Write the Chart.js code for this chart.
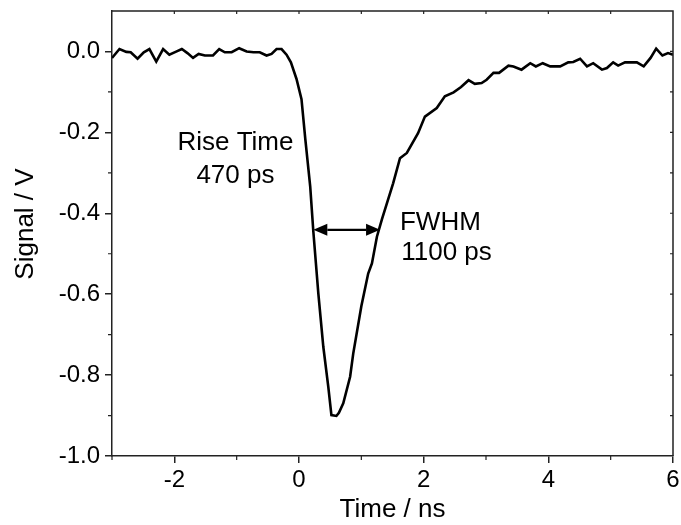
<!DOCTYPE html>
<html><head><meta charset="utf-8">
<script src="https://cdn.jsdelivr.net/npm/chart.js@4/dist/chart.umd.min.js"></script>
<style>html,body{margin:0;padding:0;background:#fff;} #wrap{width:681px;height:525px;}</style>
</head><body><div id="wrap"><canvas id="c" width="681" height="525"></canvas></div>
<script>
const times = [-3.00,-2.88,-2.77,-2.70,-2.59,-2.49,-2.40,-2.29,-2.18,-2.08,-1.98,-1.88,-1.79,-1.70,-1.61,-1.51,-1.38,-1.28,-1.19,-1.08,-0.96,-0.84,-0.73,-0.63,-0.52,-0.44,-0.36,-0.28,-0.20,-0.13,-0.04,0.04,0.10,0.18,0.23,0.31,0.39,0.47,0.52,0.60,0.64,0.71,0.82,0.87,1.00,1.11,1.17,1.25,1.33,1.51,1.62,1.73,1.91,2.02,2.21,2.34,2.48,2.60,2.72,2.82,2.93,3.01,3.12,3.21,3.36,3.44,3.57,3.71,3.80,3.91,4.03,4.19,4.32,4.40,4.51,4.62,4.72,4.86,4.94,5.04,5.12,5.23,5.42,5.53,5.64,5.73,5.83,5.92,6.00];
const signal = [-0.016,0.006,-0.001,-0.002,-0.018,-0.002,0.006,-0.025,0.006,-0.008,-0.001,0.006,-0.004,-0.016,-0.006,-0.010,-0.010,0.006,-0.002,-0.002,0.008,0.000,-0.002,-0.002,-0.010,-0.006,0.006,0.006,-0.008,-0.027,-0.068,-0.118,-0.215,-0.334,-0.445,-0.598,-0.730,-0.829,-0.899,-0.901,-0.893,-0.870,-0.804,-0.747,-0.630,-0.549,-0.524,-0.458,-0.415,-0.326,-0.264,-0.251,-0.202,-0.161,-0.140,-0.111,-0.101,-0.088,-0.071,-0.080,-0.078,-0.070,-0.053,-0.053,-0.035,-0.037,-0.045,-0.029,-0.037,-0.029,-0.037,-0.037,-0.027,-0.026,-0.018,-0.037,-0.029,-0.045,-0.041,-0.027,-0.035,-0.027,-0.027,-0.037,-0.016,0.007,-0.010,-0.004,-0.008];
const xTicks = [-2, 0, 2, 4, 6];
const yTicks = [-1.0, -0.8, -0.6, -0.4, -0.2, 0.0];
const xMinor = [-3, -1, 1, 3, 5];
const yMinor = [-0.9, -0.7, -0.5, -0.3, -0.1];
const xLabel = 'Time / ns';
const yLabel = 'Signal / V';

const annotations = {
  arrow: { from: [0.23, -0.441], to: [1.30, -0.441] },
  texts: [
    { text: 'Rise Time', at: [-1.02, -0.243], align: 'center' },
    { text: '470 ps', at: [-1.02, -0.324], align: 'center' },
    { text: 'FWHM', at: [1.62, -0.441], align: 'left' },
    { text: '1100 ps', at: [1.64, -0.516], align: 'left' }
  ]
};

const FONT = "'Liberation Sans', Arial, sans-serif";
const AX = '#222';

const framePlugin = {
  id: 'frame',
  afterDraw(chart) {
    const ctx = chart.ctx, ca = chart.chartArea;
    const xs = chart.scales.x, ys = chart.scales.y;
    ctx.save();
    ctx.strokeStyle = AX; ctx.lineWidth = 1.5;
    ctx.beginPath();
    ctx.moveTo(ca.left, ca.top); ctx.lineTo(ca.right, ca.top); ctx.lineTo(ca.right, ca.bottom);
    ctx.stroke();
    ctx.lineWidth = 1.2;
    ctx.beginPath();
    xMinor.forEach(v => { const p = xs.getPixelForValue(v); ctx.moveTo(p, ca.bottom); ctx.lineTo(p, ca.bottom + 4); });
    yMinor.forEach(v => { const p = ys.getPixelForValue(v); ctx.moveTo(ca.left - 4, p); ctx.lineTo(ca.left, p); });
    for (let v = -2; v <= 5; v++) { const p = xs.getPixelForValue(v); ctx.moveTo(p, ca.top); ctx.lineTo(p, ca.top + 3); }
    for (let i = 0; i <= 9; i++) { const p = ys.getPixelForValue(-i / 10); ctx.moveTo(ca.right - 3, p); ctx.lineTo(ca.right, p); }
    ctx.stroke();

    // arrow
    const a = annotations.arrow;
    const x1 = xs.getPixelForValue(a.from[0]), y1 = ys.getPixelForValue(a.from[1]);
    const x2 = xs.getPixelForValue(a.to[0]);
    const hl = 14, hw = 6;
    ctx.strokeStyle = '#000'; ctx.fillStyle = '#000'; ctx.lineWidth = 2.4;
    ctx.beginPath(); ctx.moveTo(x1 + hl, y1); ctx.lineTo(x2 - hl, y1); ctx.stroke();
    ctx.beginPath(); ctx.moveTo(x1, y1); ctx.lineTo(x1 + hl, y1 - hw); ctx.lineTo(x1 + hl, y1 + hw); ctx.closePath(); ctx.fill();
    ctx.beginPath(); ctx.moveTo(x2, y1); ctx.lineTo(x2 - hl, y1 - hw); ctx.lineTo(x2 - hl, y1 + hw); ctx.closePath(); ctx.fill();

    ctx.font = '26px ' + FONT; ctx.textBaseline = 'alphabetic';
    annotations.texts.forEach(t => {
      ctx.textAlign = t.align;
      ctx.fillText(t.text, xs.getPixelForValue(t.at[0]), ys.getPixelForValue(t.at[1]));
    });

    // y axis title
    ctx.save();
    ctx.translate(25.6, 224);
    ctx.rotate(-Math.PI / 2);
    ctx.textAlign = 'center'; ctx.textBaseline = 'middle';
    ctx.fillText(yLabel, 0, 0);
    ctx.restore();
    ctx.restore();
  }
};

new Chart(document.getElementById('c'), {
  type: 'line',
  data: {
    datasets: [{
      data: times.map((t, i) => ({ x: t, y: signal[i] })),
      borderColor: '#000', borderWidth: 2.6, pointRadius: 0, tension: 0, fill: false
    }]
  },
  options: {
    responsive: false, animation: false, devicePixelRatio: 1,
    layout: { padding: { top: 11, right: 8, left: 0, bottom: 0 } },
    plugins: { legend: { display: false }, tooltip: { enabled: false } },
    scales: {
      x: {
        type: 'linear', min: -3, max: 6,
        afterBuildTicks: s => { s.ticks = xTicks.map(v => ({ value: v })); },
        afterFit: s => { s.height = 69; s.paddingLeft = 0; s.paddingRight = 0; },
        ticks: { font: { family: FONT, size: 24 }, color: '#000', padding: 3, maxRotation: 0, callback: v => String(v) },
        grid: { drawOnChartArea: false, drawTicks: true, tickLength: 7, color: AX, lineWidth: 1.5 },
        border: { display: true, color: AX, width: 1.5 },
        title: { display: true, text: xLabel, font: { family: FONT, size: 26 }, color: '#000', padding: { top: 0, bottom: 0 } }
      },
      y: {
        type: 'linear', min: -1.0, max: 0.1,
        afterBuildTicks: s => { s.ticks = yTicks.map(v => ({ value: v })); },
        afterFit: s => { s.width = 112; s.paddingTop = 0; s.paddingBottom = 0; },
        ticks: { font: { family: FONT, size: 24 }, color: '#000', padding: 5, callback: v => v.toFixed(1) },
        grid: { drawOnChartArea: false, drawTicks: true, tickLength: 7, color: AX, lineWidth: 1.5 },
        border: { display: true, color: AX, width: 1.5 },
        title: { display: false }
      }
    }
  },
  plugins: [framePlugin]
});
</script>
</body></html>
